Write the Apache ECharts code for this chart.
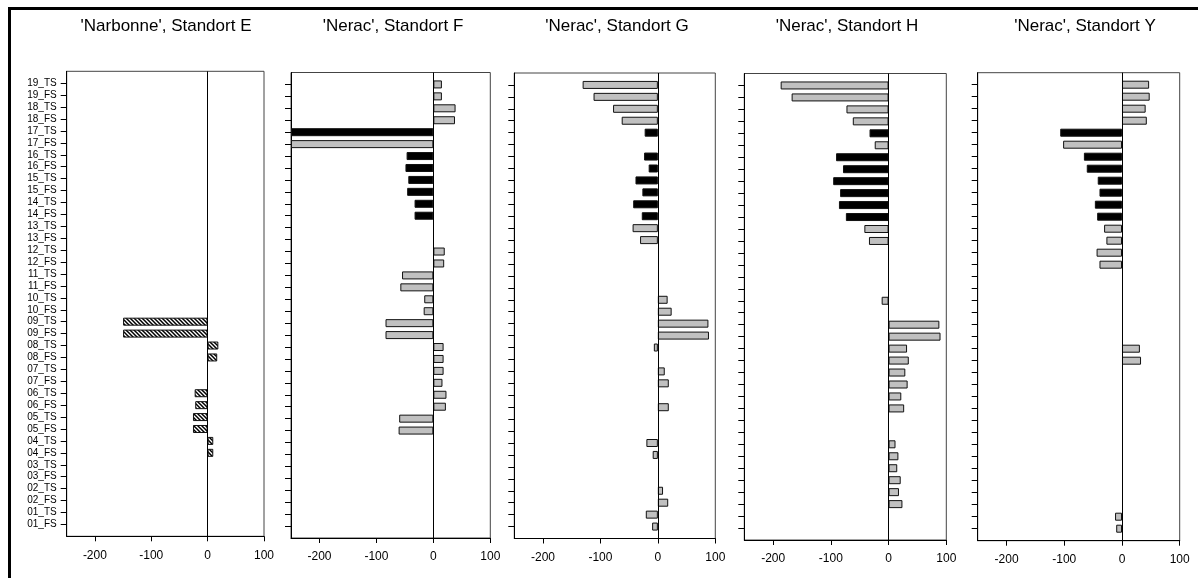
<!DOCTYPE html>
<html>
<head>
<meta charset="utf-8">
<script src="https://cdn.jsdelivr.net/npm/echarts@6/dist/echarts.min.js"></script>
<style>
  html, body { margin: 0; padding: 0; background: #fff; }
  #chart { width: 1198px; height: 578px; }
</style>
</head>
<body>
<div id="chart"></div>
<script>
// Sample categories, bottom to top
const categories = [
  '01_FS','01_TS','02_FS','02_TS','03_FS','03_TS','04_FS','04_TS','05_FS','05_TS',
  '06_FS','06_TS','07_FS','07_TS','08_FS','08_TS','09_FS','09_TS','10_FS','10_TS',
  '11_FS','11_TS','12_FS','12_TS','13_FS','13_TS','14_FS','14_TS','15_FS','15_TS',
  '16_FS','16_TS','17_FS','17_TS','18_FS','18_TS','19_FS','19_TS'
];

// Categories drawn as solid black bars
const darkCategories = ['14_FS','14_TS','15_FS','15_TS','16_FS','16_TS','17_TS'];

const xTicks = [-200, -100, 0, 100];

const panelTitles = [
  "'Narbonne', Standort E",
  "'Nerac', Standort F",
  "'Nerac', Standort G",
  "'Nerac', Standort H",
  "'Nerac', Standort Y"
];

// Values per site, same order as categories (null = no bar)
const standortE = [
  null, null, null, null, null, null, 10, 10, -26, -26,
  -22, -23, null, null, 17, 19, -150, -150, null, null,
  null, null, null, null, null, null, null, null, null, null,
  null, null, null, null, null, null, null, null
];
const standortF = [
  null, null, null, null, null, null, null, null, -61, -60,
  22, 23, 16, 18, 18, 18, -84, -84, -17, -16,
  -58, -55, 19, 20, null, null, -33, -33, -46, -44,
  -49, -47, -250, -250, 38, 39, 15, 15
];
const standortG = [
  -10, -21, 18, 9, null, null, -9, -20, null, null,
  19, null, 19, 12, null, -7, 89, 88, 24, 17,
  null, null, null, null, -31, -44, -28, -43, -27, -39,
  -16, -24, null, -23, -63, -78, -112, -131
];
const standortH = [
  null, null, 24, 18, 21, 15, 17, 12, null, null,
  27, 22, 33, 29, 35, 32, 90, 88, null, -12,
  null, null, null, null, -34, -42, -74, -86, -84, -96,
  -79, -91, -24, -33, -62, -73, -168, -187
];
const standortY = [
  -10, -12, null, null, null, null, null, null, null, null,
  null, null, null, null, 33, 31, null, null, null, null,
  null, null, -39, -44, -27, -31, -43, -47, -39, -42,
  -61, -66, -102, -107, 43, 41, 48, 47
];

const panelValues = [standortE, standortF, standortG, standortH, standortY];

// Plot boxes in pixels
const boxes = [
  { left: 66.7, top: 71.3, width: 197.3, height: 465 },
  { left: 291,  top: 72.5, width: 199.3, height: 465.5 },
  { left: 514.3, top: 73, width: 201,  height: 465.5 },
  { left: 744.3, top: 73.5, width: 202, height: 466.5 },
  { left: 977.7, top: 72.7, width: 202, height: 468 }
];
const titleCenters = [161, 388, 612, 842, 1080];

const FONT = '"Liberation Sans", Arial, sans-serif';
const GRAY = '#c0c0c0';

// Diagonal hatch used for the first site
function hatchPattern() {
  const c = document.createElement('canvas');
  c.width = 4; c.height = 4;
  const g = c.getContext('2d');
  g.fillStyle = '#fff';
  g.fillRect(0, 0, 4, 4);
  g.strokeStyle = '#000';
  g.lineWidth = 1.5;
  g.beginPath();
  g.moveTo(-1, -1); g.lineTo(5, 5);
  g.moveTo(3, -1); g.lineTo(5, 1);
  g.moveTo(-1, 3); g.lineTo(1, 5);
  g.stroke();
  return c;
}
const hatch = { image: hatchPattern(), repeat: 'repeat' };

// Blank slots at both ends give the half-step padding above and below
const axisCats = [''].concat(categories, ['']);

const grids = [], xAxes = [], yAxes = [], series = [], titles = [];

panelValues.forEach((vals, i) => {
  const b = boxes[i];
  grids.push({
    left: b.left, top: b.top, width: b.width, height: b.height,
    show: true, borderColor: '#444', borderWidth: 1, containLabel: false
  });
  titles.push({
    text: panelTitles[i],
    left: titleCenters[i], top: 13, textAlign: 'center',
    textStyle: { fontFamily: FONT, fontSize: 17, fontWeight: 'normal', color: '#000' }
  });
  xAxes.push({
    gridIndex: i, type: 'value', min: -250, max: 100,
    axisLine: { show: true, onZero: false, lineStyle: { color: '#000', width: 1 } },
    axisTick: { show: true, length: 5, customValues: xTicks, lineStyle: { color: '#000' } },
    axisLabel: { customValues: xTicks, fontFamily: FONT, fontSize: 12, color: '#000', margin: 13 },
    splitLine: { show: false }
  });
  yAxes.push({
    gridIndex: i, type: 'category', data: axisCats, boundaryGap: false,
    axisLine: { show: true, onZero: false, lineStyle: { color: '#000', width: 1 } },
    axisTick: { show: true, length: 6, interval: (idx, val) => val !== '', lineStyle: { color: '#000' } },
    axisLabel: { show: i === 0, interval: 0, fontFamily: FONT, fontSize: 10, color: '#000', margin: 10 },
    splitLine: { show: false }
  });
  const data = [null].concat(vals, [null]).map((v, k) => {
    if (v === null) return '-';
    const cat = axisCats[k];
    let color;
    if (i === 0) color = hatch;
    else color = darkCategories.includes(cat) ? '#000' : GRAY;
    return { value: v, itemStyle: { color: color } };
  });
  series.push({
    type: 'bar', xAxisIndex: i, yAxisIndex: i,
    barWidth: 8,
    itemStyle: { borderColor: '#111', borderWidth: 1 },
    data: data,
    markLine: {
      silent: true, symbol: ['none', 'none'], label: { show: false },
      lineStyle: { color: '#000', width: 1, type: 'solid' },
      data: [{ xAxis: 0 }]
    }
  });
});

const chart = echarts.init(document.getElementById('chart'), null, { renderer: 'canvas' });
chart.setOption({
  animation: false,
  backgroundColor: '#fff',
  title: titles,
  grid: grids,
  xAxis: xAxes,
  yAxis: yAxes,
  series: series,
  graphic: [
    { type: 'rect', shape: { x: 8, y: 7, width: 1190, height: 3 }, style: { fill: '#000' }, silent: true },
    { type: 'rect', shape: { x: 8, y: 7, width: 3, height: 571 }, style: { fill: '#000' }, silent: true }
  ]
});
</script>
</body>
</html>
